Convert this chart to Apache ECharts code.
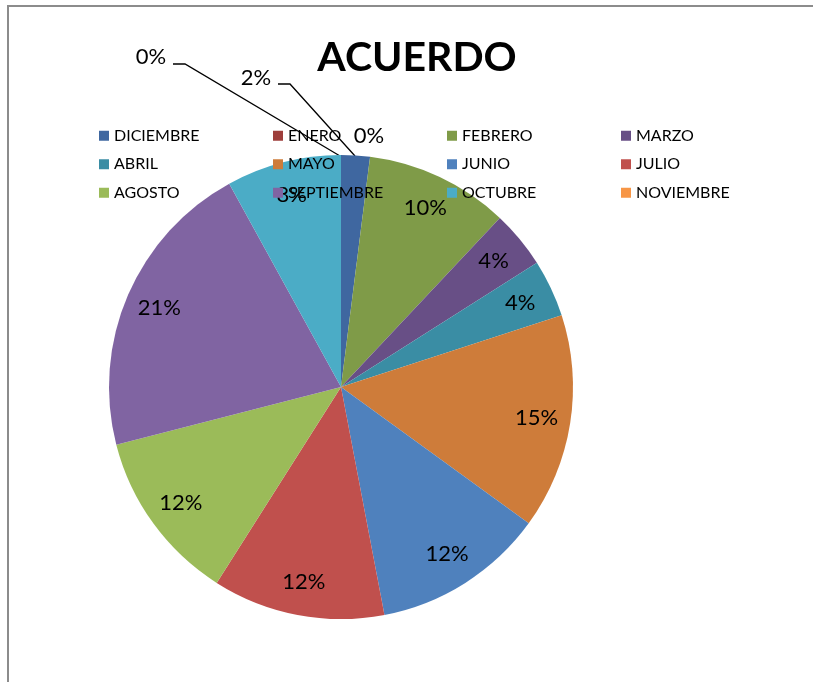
<!DOCTYPE html>
<html><head><meta charset="utf-8">
<script src="https://cdn.jsdelivr.net/npm/echarts@6/dist/echarts.min.js"></script>
<style>html,body{margin:0;padding:0;background:#fff;}#c{width:813px;height:682px;}
#frame{position:absolute;left:7px;top:5px;width:820px;height:700px;border-left:2px solid #8c8c8c;border-top:2px solid #8c8c8c;pointer-events:none;}</style>
</head><body><div id="c"></div><div id="frame"></div>
<script>
const months = ['DICIEMBRE','ENERO','FEBRERO','MARZO','ABRIL','MAYO','JUNIO','JULIO','AGOSTO','SEPTIEMBRE','OCTUBRE','NOVIEMBRE'];
const values = [2,0,10,4,4,15,12,12,12,21,8,0];
const colors = ['#3F67A0','#9E3E3B','#7F9B48','#684F86','#3A8DA4','#CE7C3A','#4F81BD','#C0504D','#9BBB59','#8064A2','#4BACC6','#F79646'];
const titleText = 'ACUERDO';

const outsideIdx = [0,1,11];
const outsidePos = {0:[256,78],1:[369,136],11:[151,57]};
const leaderPts = {0:[[278,84],[290,84],[355,156]],11:[[173,64],[185,64],[340,156]]};

const chart = echarts.init(document.getElementById('c'));
const mainData = months.map((m,i)=>({
  name:m, value:values[i],
  itemStyle:{color:colors[i]},
  label:{show: outsideIdx.includes(i)},
  labelLine:{show: i===0 || i===11}
}));
const innerData = months.map((m,i)=>({
  name:m, value:values[i],
  label:{show: !outsideIdx.includes(i)}
}));
chart.setOption({
  animation:false,
  color: colors,
  title:{text:titleText,left:412,top:32,textAlign:'center',
    textStyle:{fontFamily:'Lato',fontWeight:'bold',fontSize:41,color:'#000'}},
  legend:{
    data:months, left:94, top:121, width:700, itemWidth:10, itemHeight:10, itemGap:9,
    icon:'rect', selectedMode:false,
    textStyle:{fontFamily:'Lato',fontSize:16,color:'#000',width:150,lineHeight:19.5,padding:[0,0,0,0]}
  },
  series:[
    {type:'pie', center:[341,387], radius:232, startAngle:90, clockwise:true,
     data:mainData, silent:true, avoidLabelOverlap:false,
     label:{position:'outside',formatter:'{d}%',fontFamily:'Lato',fontSize:22,color:'#000'},
     labelLine:{lineStyle:{color:'#000',width:1.3}},
     labelLayout:function(p){
       const pos = outsidePos[p.dataIndex];
       if(!pos) return {};
       const o = {x:pos[0], y:pos[1], align:'center', verticalAlign:'middle'};
       if(leaderPts[p.dataIndex]) o.labelLinePoints = leaderPts[p.dataIndex];
       return o;
     }
    },
    {type:'pie', center:[341,387], radius:[158,232], startAngle:90, clockwise:true,
     data:innerData, silent:true, legendHoverLink:false,
     itemStyle:{color:'transparent'},
     label:{position:'inside',formatter:'{d}%',fontFamily:'Lato',fontSize:22,color:'#000'},
     labelLine:{show:false}
    }
  ]
});
</script></body></html>
